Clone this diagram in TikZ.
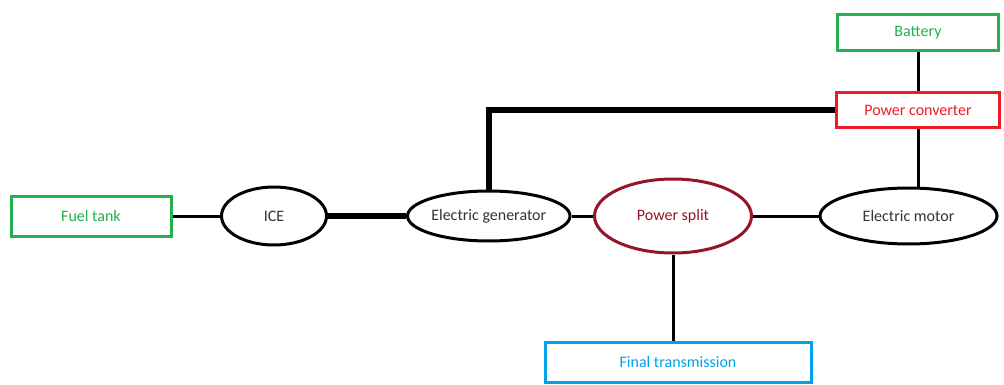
\documentclass[tikz,border=0pt]{standalone}
\usepackage{fontspec}
\setmainfont{Carlito}
\usetikzlibrary{positioning,shapes.geometric}
\definecolor{verde}{RGB}{34,177,76}
\definecolor{rosu}{RGB}{237,28,36}
\definecolor{visiniu}{RGB}{150,20,40}
\definecolor{albastru}{RGB}{0,162,232}
\tikzset{
  bloc/.style     = {draw, line width=3pt, inner sep=0pt, align=center,
                     font=\fontsize{16}{18}\selectfont},
  elipsa/.style   = {bloc, ellipse, draw=black, text=black!80},
  linie/.style    = {line width=3pt},
  liniegroasa/.style = {line width=6pt}
}
\begin{document}
\begin{tikzpicture}[x=1pt, y=-1pt, node distance=40pt]
    \useasboundingbox (0,0) rectangle (1004,385);

    \node[bloc, draw=verde, text=verde, minimum width=160pt, minimum height=40pt] (rezervor) at (91,216) {Fuel tank};
    \node[elipsa, right=47.5pt of rezervor, minimum width=105pt, minimum height=58pt] (ice) {ICE};
    \node[elipsa, right=78pt of ice, minimum width=155pt, minimum height=50pt] (generator) {Electric generator};
    \node[elipsa, right=21.5pt of generator, draw=visiniu, text=visiniu, minimum width=157pt, minimum height=74pt] (split) {Power split};
    \node[elipsa, right=65.5pt of split, minimum width=177pt, minimum height=56pt] (motor) {Electric motor};

    \node[bloc, draw=albastru, text=albastru, below=86pt of split, xshift=5pt, minimum width=266pt, minimum height=40pt] (transmisie) {Final transmission};

    \node[bloc, draw=rosu, text=rosu, minimum width=163pt, minimum height=35pt] (convertor) at (918,110) {Power converter};
    \node[bloc, draw=verde, text=verde, above=39pt of convertor, minimum width=161pt, minimum height=36pt] (baterie) {Battery};

    \draw[linie] (rezervor) -- (ice);
    \draw[liniegroasa] (ice) -- (generator);
    \draw[linie] (generator) -- (split);
    \draw[linie] (split) -- (motor);
    \draw[linie] (split.south) -- (split.south |- transmisie.north);
    \draw[linie] (baterie) -- (convertor);
    \draw[linie] (convertor) -- (convertor |- motor.north);
    \draw[liniegroasa] (generator.north) |- (convertor.west);
\end{tikzpicture}
\end{document}
